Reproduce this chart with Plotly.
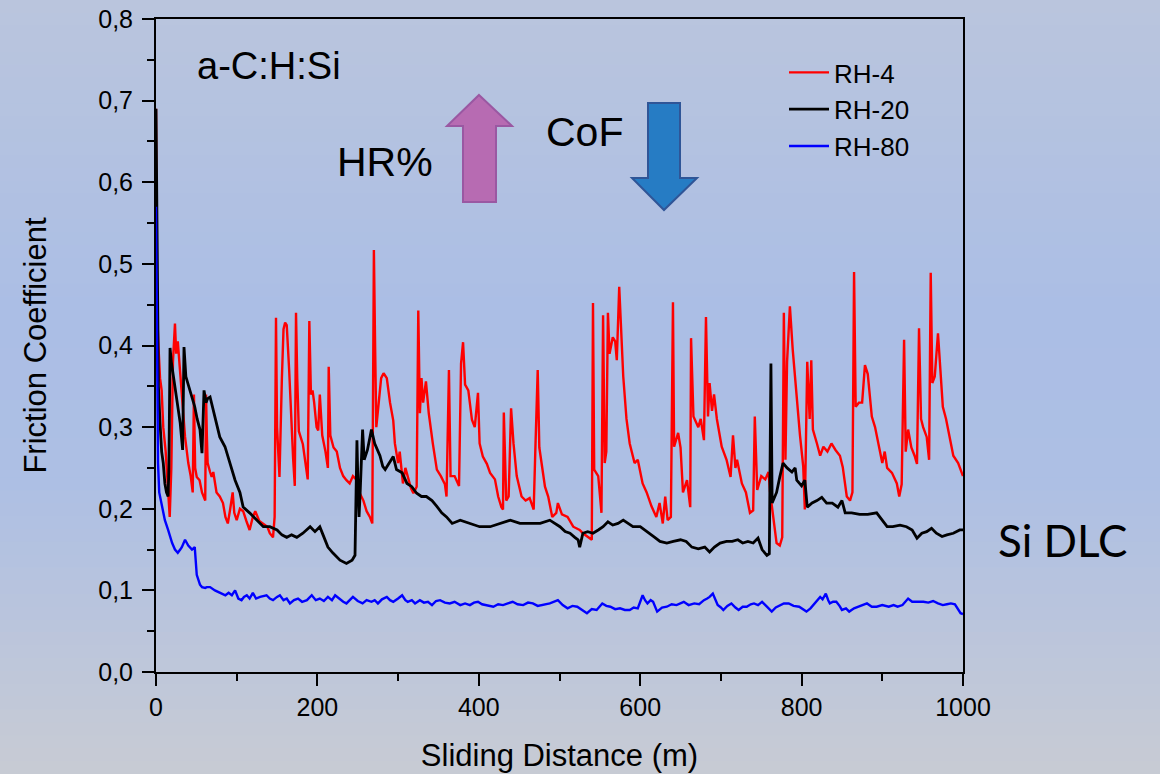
import plotly.graph_objects as go

# ---------------- data ----------------
rh4_x = [0, 1, 3, 5, 7, 9, 12, 15, 17, 19, 21, 23.5, 25, 27, 29, 31, 34, 36, 40, 43, 45.5, 47, 48.5, 50.5, 54, 57, 61, 62, 63, 64,
         67, 69, 71, 75, 79, 83, 86, 89, 92, 95, 97, 100, 104, 108, 112, 116, 120, 123, 128, 133, 138, 141, 145, 147, 148.7,
         150, 153, 156, 158, 160, 162, 165, 168, 170, 172, 173.5, 175, 177, 182, 186, 188, 190, 192, 194, 196, 199, 201, 203,
         206, 210, 213, 214, 216, 220, 224, 228, 232, 236, 240, 244, 248, 253, 257, 261, 265, 268, 269, 270, 271.5, 273, 276,
         279, 282, 286, 290, 294, 296, 300, 302, 306, 309, 312, 316, 319, 323, 325, 327, 329, 331, 334.5, 338, 343, 348, 353,
         358, 360, 363, 365, 370, 375.5, 378, 380.5, 383, 387, 391.5, 395, 399, 401, 405, 410, 414, 420, 424, 428, 430, 431,
         434, 437, 440, 443, 447, 453, 458, 463, 468, 470, 473, 475, 478, 482, 486, 491, 496, 498, 503, 510, 517, 525, 529,
         535, 540, 541.5, 543, 548, 552, 554, 556, 558, 560, 562, 566, 569, 571, 574, 576, 579, 583, 587, 593, 597, 603, 608,
         614, 620, 624, 628, 631, 634, 638, 640.6, 642, 647, 650, 653, 658, 662, 663, 666, 672, 675, 679, 681.5, 684, 686, 689,
         691.5, 695, 701, 707, 712, 715, 718, 720, 726, 731, 736, 740, 742, 745, 750, 755, 759, 761, 765, 769, 773, 776, 778,
         780, 782, 785.5, 789, 794, 798, 802, 804, 807, 810, 812, 814, 819, 823, 827, 832, 837, 842, 847.5, 851, 856, 860, 863,
         865, 867, 871, 875, 878.5, 882, 887, 891, 895, 900, 903, 906, 912, 918, 921, 924, 927, 929, 932, 936, 940, 943, 945.5,
         948, 950.6, 955, 958, 960, 962, 965, 969, 972, 975, 979, 983, 988, 994, 999, 1000]
rh4_y = [0.69, 0.45, 0.40, 0.36, 0.345, 0.30, 0.27, 0.22, 0.19, 0.25, 0.38, 0.427, 0.39, 0.405, 0.38, 0.345, 0.31, 0.288,
         0.256, 0.24, 0.22, 0.34, 0.25, 0.239, 0.235, 0.22, 0.21, 0.34, 0.29, 0.256, 0.245, 0.239, 0.245, 0.22, 0.215, 0.207,
         0.19, 0.182, 0.20, 0.22, 0.195, 0.186, 0.20, 0.197, 0.185, 0.174, 0.19, 0.197, 0.185, 0.182, 0.178, 0.17, 0.165, 0.19,
         0.434, 0.30, 0.239, 0.36, 0.42, 0.428, 0.425, 0.37, 0.295, 0.26, 0.228, 0.44, 0.36, 0.295, 0.279, 0.25, 0.236, 0.43,
         0.34, 0.345, 0.33, 0.30, 0.296, 0.34, 0.29, 0.27, 0.25, 0.374, 0.29, 0.275, 0.27, 0.25, 0.24, 0.235, 0.231, 0.24,
         0.236, 0.218, 0.21, 0.197, 0.19, 0.182, 0.40, 0.517, 0.40, 0.30, 0.33, 0.36, 0.366, 0.36, 0.33, 0.308, 0.28, 0.256,
         0.27, 0.231, 0.25, 0.24, 0.225, 0.219, 0.227, 0.443, 0.317, 0.36, 0.33, 0.356, 0.317, 0.28, 0.248, 0.24, 0.23, 0.215,
         0.37, 0.24, 0.24, 0.228, 0.378, 0.404, 0.352, 0.345, 0.309, 0.30, 0.342, 0.28, 0.264, 0.255, 0.244, 0.236, 0.215,
         0.202, 0.199, 0.318, 0.21, 0.215, 0.323, 0.28, 0.24, 0.215, 0.21, 0.213, 0.199, 0.27, 0.37, 0.275, 0.256, 0.227,
         0.215, 0.19, 0.195, 0.207, 0.193, 0.19, 0.178, 0.174, 0.17, 0.166, 0.162, 0.452, 0.248, 0.24, 0.195, 0.437, 0.256,
         0.27, 0.44, 0.39, 0.41, 0.405, 0.382, 0.472, 0.42, 0.362, 0.31, 0.28, 0.256, 0.26, 0.231, 0.22, 0.203, 0.19, 0.207,
         0.182, 0.215, 0.186, 0.19, 0.453, 0.276, 0.293, 0.275, 0.22, 0.235, 0.202, 0.409, 0.313, 0.30, 0.31, 0.284, 0.435,
         0.313, 0.354, 0.32, 0.34, 0.31, 0.276, 0.26, 0.239, 0.29, 0.25, 0.26, 0.231, 0.22, 0.195, 0.198, 0.313, 0.223, 0.24,
         0.236, 0.245, 0.22, 0.19, 0.158, 0.155, 0.165, 0.44, 0.26, 0.38, 0.448, 0.395, 0.333, 0.29, 0.252, 0.199, 0.38, 0.31,
         0.382, 0.297, 0.28, 0.265, 0.276, 0.27, 0.28, 0.272, 0.265, 0.251, 0.215, 0.21, 0.22, 0.49, 0.325, 0.33, 0.33, 0.376,
         0.365, 0.313, 0.30, 0.28, 0.256, 0.27, 0.25, 0.244, 0.231, 0.215, 0.23, 0.407, 0.27, 0.297, 0.275, 0.265, 0.255,
         0.421, 0.31, 0.30, 0.288, 0.26, 0.489, 0.354, 0.362, 0.415, 0.362, 0.325, 0.31, 0.288, 0.265, 0.256, 0.244, 0.24]

rh20_x = [0, 1, 2, 3, 5, 7, 9, 11, 13, 15, 16, 17.4, 19, 21, 24, 26, 30, 33, 34.7, 37, 42, 45, 48, 51, 54.5, 57, 59.5, 62,
          64, 67, 70, 73, 79, 85.5, 92, 98, 104, 108, 116, 125, 133, 141, 150, 156, 162, 168, 174.5, 182, 191, 197, 203,
          207, 213, 219, 228, 236, 243, 246.6, 249, 250.5, 251.6, 253, 254, 256, 258, 262, 267, 271, 277.5, 281, 284, 288,
          294, 298, 305, 311, 317, 323, 329, 335, 342, 348, 354, 360, 367, 377, 389, 401, 414, 426, 439, 451, 463, 476, 488,
          495, 500.6, 507, 513, 519, 523, 525, 529, 535, 541.5, 548, 554, 560, 566, 572.5, 579, 585, 591, 600, 606, 612, 618,
          624.5, 633, 641, 650, 657, 664, 672, 680, 686, 692, 699, 707, 714, 721, 727, 733.5, 740, 746, 751, 757, 760, 762,
          763.5, 769, 773, 777, 782, 788, 792, 794, 800, 804, 807, 813, 819, 825, 831, 838, 845, 850, 854, 862, 872, 882, 893,
          900, 906, 913, 922, 930, 937, 943, 949, 955, 961, 967, 974, 980, 988, 996, 1000]
rh20_y = [0.69, 0.55, 0.42, 0.35, 0.305, 0.27, 0.256, 0.231, 0.22, 0.215, 0.25, 0.397, 0.38, 0.366, 0.35, 0.337, 0.305,
          0.272, 0.398, 0.362, 0.345, 0.335, 0.325, 0.31, 0.297, 0.268, 0.345, 0.33, 0.335, 0.337, 0.325, 0.313, 0.288, 0.276,
          0.256, 0.235, 0.22, 0.202, 0.195, 0.186, 0.178, 0.178, 0.174, 0.168, 0.165, 0.168, 0.165, 0.17, 0.178, 0.172, 0.178,
          0.168, 0.153, 0.146, 0.137, 0.133, 0.137, 0.143, 0.284, 0.22, 0.19, 0.22, 0.25, 0.297, 0.26, 0.272, 0.297, 0.28,
          0.265, 0.252, 0.248, 0.255, 0.264, 0.248, 0.244, 0.231, 0.227, 0.219, 0.215, 0.215, 0.21, 0.203, 0.195, 0.19, 0.182,
          0.186, 0.182, 0.178, 0.178, 0.182, 0.186, 0.182, 0.182, 0.182, 0.186, 0.182, 0.178, 0.172, 0.17, 0.165, 0.162,
          0.153, 0.17, 0.172, 0.17, 0.174, 0.178, 0.184, 0.18, 0.182, 0.186, 0.182, 0.178, 0.178, 0.174, 0.17, 0.165, 0.16,
          0.158, 0.16, 0.162, 0.16, 0.153, 0.151, 0.153, 0.147, 0.153, 0.158, 0.16, 0.16, 0.162, 0.158, 0.16, 0.158, 0.164,
          0.15, 0.143, 0.145, 0.378, 0.207, 0.22, 0.239, 0.256, 0.25, 0.245, 0.25, 0.235, 0.228, 0.235, 0.202, 0.207, 0.21,
          0.214, 0.207, 0.207, 0.202, 0.21, 0.195, 0.195, 0.193, 0.193, 0.195, 0.186, 0.178, 0.178, 0.18, 0.178, 0.174, 0.164,
          0.17, 0.172, 0.176, 0.17, 0.166, 0.168, 0.17, 0.174, 0.174]

rh80_x = [0, 1, 2.5, 4, 7, 11, 15, 20, 23.5, 27, 30, 32, 36, 40, 44.6, 48, 50.5, 54.5, 57, 61, 63, 67, 73, 79, 83, 86, 90,
          94, 98, 102, 106, 109, 112.5, 116, 120, 124, 129, 137, 141, 145, 150, 153.5, 158, 162, 166, 171, 176, 181, 187,
          193, 198, 203, 208, 213, 218, 222, 227, 232, 236, 240, 244, 250, 256, 261, 267, 271, 275, 280, 286, 290, 294, 300,
          305, 309, 312, 317, 321, 327, 332, 337, 342, 347, 352, 358, 364, 370, 377, 383, 389, 394, 399, 404, 410, 418, 424,
          430, 436, 442, 448, 455, 461, 467, 473, 480, 488, 498, 504, 510, 516, 522, 528, 534, 540, 546, 553, 558, 563, 569,
          575, 581, 587, 592, 597, 600, 603, 606, 609, 613, 616, 621, 627, 633, 639, 645, 650, 654, 660, 667, 673, 679, 683,
          686, 690, 693, 696, 700, 703, 708, 713, 718, 722, 727, 732, 737, 741, 746, 751, 757, 763, 768, 773, 778, 784, 790,
          797, 802, 806, 811, 816, 820, 823, 826, 830, 833, 835, 839, 843, 847, 850, 855, 859, 865, 871, 876, 881, 887, 893,
          900, 908, 914, 919, 925, 932, 937, 944, 951, 957, 963, 969, 975, 980, 985, 990, 992, 995, 997, 1000]
rh80_y = [0.57, 0.40, 0.256, 0.22, 0.207, 0.186, 0.174, 0.158, 0.15, 0.146, 0.15, 0.153, 0.162, 0.155, 0.15, 0.153, 0.119,
          0.107, 0.104, 0.103, 0.104, 0.104, 0.1, 0.097, 0.096, 0.094, 0.097, 0.094, 0.1, 0.09, 0.088, 0.092, 0.094, 0.09,
          0.097, 0.09, 0.092, 0.094, 0.09, 0.088, 0.092, 0.094, 0.088, 0.09, 0.084, 0.088, 0.09, 0.086, 0.088, 0.094, 0.088,
          0.09, 0.087, 0.092, 0.088, 0.094, 0.09, 0.086, 0.084, 0.088, 0.092, 0.087, 0.084, 0.088, 0.086, 0.088, 0.084, 0.089,
          0.092, 0.088, 0.086, 0.09, 0.094, 0.088, 0.086, 0.088, 0.084, 0.088, 0.085, 0.086, 0.082, 0.087, 0.088, 0.085,
          0.084, 0.086, 0.082, 0.084, 0.082, 0.085, 0.086, 0.083, 0.082, 0.08, 0.083, 0.082, 0.084, 0.086, 0.083, 0.082,
          0.085, 0.084, 0.081, 0.082, 0.084, 0.088, 0.082, 0.078, 0.081, 0.08, 0.076, 0.072, 0.077, 0.076, 0.084, 0.081,
          0.08, 0.077, 0.078, 0.076, 0.076, 0.079, 0.078, 0.085, 0.094, 0.088, 0.084, 0.088, 0.086, 0.074, 0.079, 0.08,
          0.083, 0.082, 0.084, 0.086, 0.082, 0.084, 0.083, 0.088, 0.09, 0.092, 0.096, 0.088, 0.082, 0.079, 0.076, 0.081,
          0.084, 0.079, 0.076, 0.08, 0.08, 0.083, 0.084, 0.082, 0.086, 0.08, 0.074, 0.079, 0.082, 0.084, 0.084, 0.081, 0.08,
          0.077, 0.074, 0.078, 0.084, 0.088, 0.092, 0.089, 0.096, 0.088, 0.084, 0.086, 0.086, 0.081, 0.076, 0.078, 0.074,
          0.078, 0.08, 0.082, 0.084, 0.08, 0.08, 0.082, 0.08, 0.082, 0.08, 0.082, 0.09, 0.086, 0.086, 0.086, 0.085, 0.087,
          0.084, 0.082, 0.083, 0.084, 0.083, 0.08, 0.076, 0.072, 0.071]

series_names = ["RH-4", "RH-20", "RH-80"]
series_colors = ["#ff0000", "#000000", "#0000ff"]

x_tickvals = [0, 200, 400, 600, 800, 1000]
x_ticktext = ["0", "200", "400", "600", "800", "1000"]
y_tickvals = [0.0, 0.1, 0.2, 0.3, 0.4, 0.5, 0.6, 0.7, 0.8]
y_ticktext = ["0,0", "0,1", "0,2", "0,3", "0,4", "0,5", "0,6", "0,7", "0,8"]
x_minor = [100, 300, 500, 700, 900]
y_minor = [0.05, 0.15, 0.25, 0.35, 0.45, 0.55, 0.65, 0.75]

# ---------------- layout geometry ----------------
W, H = 1160, 774
L, R, T, B = 156, 963, 19, 672          # plot area in pixels


def px(xp, yp):
    """pixel -> paper coordinates"""
    return (xp - L) / (R - L), (B - yp) / (B - T)


FONT = "Liberation Sans, Arial, sans-serif"

fig = go.Figure()
for xs, ys, name, col, w in [(rh4_x, rh4_y, series_names[0], series_colors[0], 2.4),
                              (rh20_x, rh20_y, series_names[1], series_colors[1], 2.8),
                              (rh80_x, rh80_y, series_names[2], series_colors[2], 2.4)]:
    fig.add_trace(go.Scatter(x=xs, y=ys, mode="lines", name=name,
                             line=dict(color=col, width=w)))

shapes = []
# vertical gradient background (slide style)
stops = [(0.0, (186, 197, 221)), (0.40, (171, 190, 229)), (0.62, (173, 191, 228)), (1.0, (200, 203, 212))]
n = 60
for i in range(n):
    t0, t1 = i / n, (i + 1) / n
    tm = (t0 + t1) / 2
    for j in range(len(stops) - 1):
        if stops[j][0] <= tm <= stops[j + 1][0]:
            a, ca = stops[j]
            b, cb = stops[j + 1]
            f = (tm - a) / (b - a)
            c = tuple(int(round(ca[k] + (cb[k] - ca[k]) * f)) for k in range(3))
            break
    x0p, y0p = px(-2, t0 * H)
    x1p, y1p = px(W + 2, t1 * H + 1)
    shapes.append(dict(type="rect", xref="paper", yref="paper", x0=x0p, x1=x1p, y0=y1p, y1=y0p,
                       line=dict(width=0), fillcolor="rgb(%d,%d,%d)" % c, layer="below"))


def path_from(points):
    pts = [px(a, b) for a, b in points]
    return "M " + " L ".join("%.5f,%.5f" % p for p in pts) + " Z"


# HR% arrow (up)
up_pts = [(479, 95), (512, 126), (496, 126), (496, 202), (463, 202), (463, 126), (447, 126)]
shapes.append(dict(type="path", xref="paper", yref="paper", path=path_from(up_pts),
                   fillcolor="#b76bb2", line=dict(color="#9a58a2", width=2), layer="above"))
# CoF arrow (down)
dn_pts = [(648, 103), (680, 103), (680, 178), (697, 178), (664, 210), (632, 178), (648, 178)]
shapes.append(dict(type="path", xref="paper", yref="paper", path=path_from(dn_pts),
                   fillcolor="#267cc4", line=dict(color="#2f5597", width=2), layer="above"))

annotations = []
ax, ay = px(195, 66)
annotations.append(dict(text="a-C:H:Si", x=ax, y=ay, xref="paper", yref="paper", xanchor="left", yanchor="middle",
                        showarrow=False, font=dict(family=FONT, size=38, color="black")))
ax, ay = px(335, 162)
annotations.append(dict(text="HR%", x=ax, y=ay, xref="paper", yref="paper", xanchor="left", yanchor="middle",
                        showarrow=False, font=dict(family=FONT, size=41, color="black")))
ax, ay = px(544, 132)
annotations.append(dict(text="CoF", x=ax, y=ay, xref="paper", yref="paper", xanchor="left", yanchor="middle",
                        showarrow=False, font=dict(family=FONT, size=41, color="black")))
ax, ay = px(1062, 540)
annotations.append(dict(text="Si DLC", x=ax, y=ay, xref="paper", yref="paper", xanchor="center", yanchor="middle",
                        showarrow=False, font=dict(family="Lato, Noto Sans, sans-serif", size=44, color="black")))

lx, ly = px(784, 49)

fig.update_layout(
    width=W, height=H,
    margin=dict(l=L, r=W - R, t=T, b=H - B, pad=0, autoexpand=False),
    paper_bgcolor="rgb(182,196,224)",
    plot_bgcolor="rgba(0,0,0,0)",
    font=dict(family=FONT, color="black"),
    shapes=shapes,
    annotations=annotations,
    showlegend=True,
    legend=dict(x=lx, y=ly, xanchor="left", yanchor="top", bgcolor="rgba(0,0,0,0)",
                font=dict(family=FONT, size=26, color="black"), tracegroupgap=0, itemwidth=40),
    xaxis=dict(range=[0, 1000], tickmode="array", tickvals=x_tickvals, ticktext=x_ticktext,
               showline=True, linecolor="black", linewidth=2, mirror=True, showgrid=False, zeroline=False,
               ticks="outside", ticklen=12, tickwidth=2, tickcolor="black",
               minor=dict(tickmode="array", tickvals=x_minor, ticks="outside", ticklen=7, tickwidth=2,
                          tickcolor="black", showgrid=False),
               tickfont=dict(family=FONT, size=25, color="black"),
               title=dict(text="Sliding Distance (m)", font=dict(family=FONT, size=31, color="black"), standoff=24)),
    yaxis=dict(range=[0, 0.8], tickmode="array", tickvals=y_tickvals, ticktext=y_ticktext,
               showline=True, linecolor="black", linewidth=2, mirror=True, showgrid=False, zeroline=False,
               ticks="outside", ticklen=12, tickwidth=2, tickcolor="black", ticklabelstandoff=4,
               minor=dict(tickmode="array", tickvals=y_minor, ticks="outside", ticklen=7, tickwidth=2,
                          tickcolor="black", showgrid=False),
               tickfont=dict(family=FONT, size=25, color="black"),
               title=dict(text="Friction Coefficient", font=dict(family=FONT, size=31, color="black"), standoff=42)),
)

fig.write_html("out.html", config={"displayModeBar": False},
               post_script="document.body.style.margin='0';document.body.style.overflow='hidden';")
